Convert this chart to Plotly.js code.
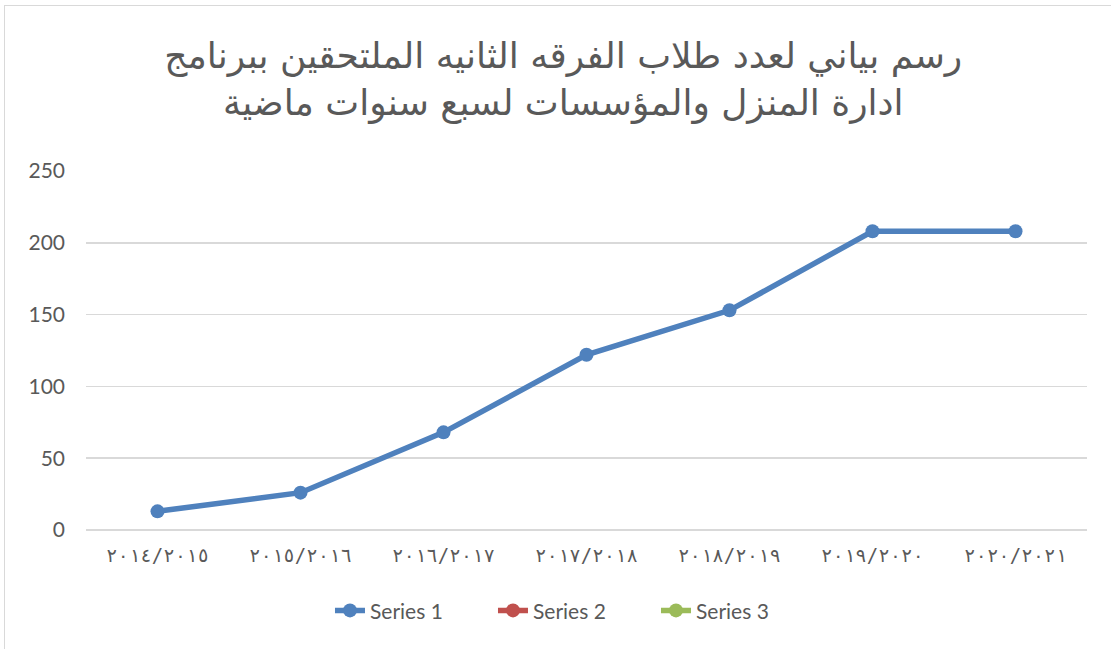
<!DOCTYPE html>
<html>
<head>
<meta charset="utf-8">
<script src="https://cdn.plot.ly/plotly-3.0.1.min.js"></script>
<style>
  html, body { margin: 0; padding: 0; background: #fff; }
  #chart { width: 1111px; height: 649px; position: relative; }
  #frame { position: absolute; left: 4px; top: 5px; width: 1120px; height: 700px;
           border-left: 1.5px solid #d9d9d9; border-top: 1.5px solid #d9d9d9; pointer-events: none; }
</style>
</head>
<body>
<div id="chart"></div>
<div id="frame"></div>
<script>
const categories = ["٢٠١٤/٢٠١٥", "٢٠١٥/٢٠١٦", "٢٠١٦/٢٠١٧", "٢٠١٧/٢٠١٨", "٢٠١٨/٢٠١٩", "٢٠١٩/٢٠٢٠", "٢٠٢٠/٢٠٢١"];
const series1 = [13, 26, 68, 122, 153, 208, 208];
const series2 = [null, null, null, null, null, null, null];
const series3 = [null, null, null, null, null, null, null];
const seriesNames = ["Series 1", "Series 2", "Series 3"];
const titleLines = ["رسم بياني لعدد طلاب الفرقه الثانيه الملتحقين ببرنامج", "ادارة المنزل والمؤسسات لسبع سنوات ماضية"];
const yTicks = [0, 50, 100, 150, 200, 250];

const colors = ["#4F81BD", "#C0504D", "#9BBB59"];
const data = [series1, series2, series3].map((ys, i) => ({
  type: "scatter",
  mode: "lines+markers",
  x: categories,
  y: ys,
  name: seriesNames[i],
  line: { color: colors[i], width: 5.5 },
  marker: { color: colors[i], size: 14 },
  cliponaxis: false
}));

const layout = {
  width: 1111, height: 649,
  margin: { l: 86, r: 24, t: 171, b: 119 },
  paper_bgcolor: "#fff", plot_bgcolor: "#fff",
  showlegend: true,
  title: {
    text: titleLines.join("<br>"),
    font: { family: "DejaVu Sans", size: 36, color: "#595959" },
    x: 0.507, xanchor: "center",
    y: 0.895, yanchor: "middle", yref: "container"
  },
  xaxis: {
    type: "category",
    range: [-0.5, 6.5],
    showgrid: false, zeroline: false,
    showline: false,
    ticks: "",
    ticklabelstandoff: 12,
    tickfont: { family: "DejaVu Sans Mono", size: 19, color: "#595959" },
    fixedrange: true
  },
  yaxis: {
    range: [0, 250],
    tickvals: yTicks,
    showgrid: true, gridcolor: "#d9d9d9", gridwidth: 1.5,
    zeroline: true, zerolinecolor: "#d9d9d9", zerolinewidth: 1.5,
    showline: false, ticks: "",
    ticklabelstandoff: 20,
    tickfont: { family: "Lato", size: 21, color: "#595959" },
    automargin: false,
    fixedrange: true
  },
  legend: {
    orientation: "h",
    x: 0.488, xanchor: "center",
    y: -0.225, yanchor: "middle",
    font: { family: "Lato", size: 21, color: "#595959" },
    entrywidth: 118, entrywidthmode: "pixels",
    traceorder: "normal"
  }
};

Plotly.newPlot("chart", data, layout, { displayModeBar: false, staticPlot: true });
</script>
</body>
</html>
